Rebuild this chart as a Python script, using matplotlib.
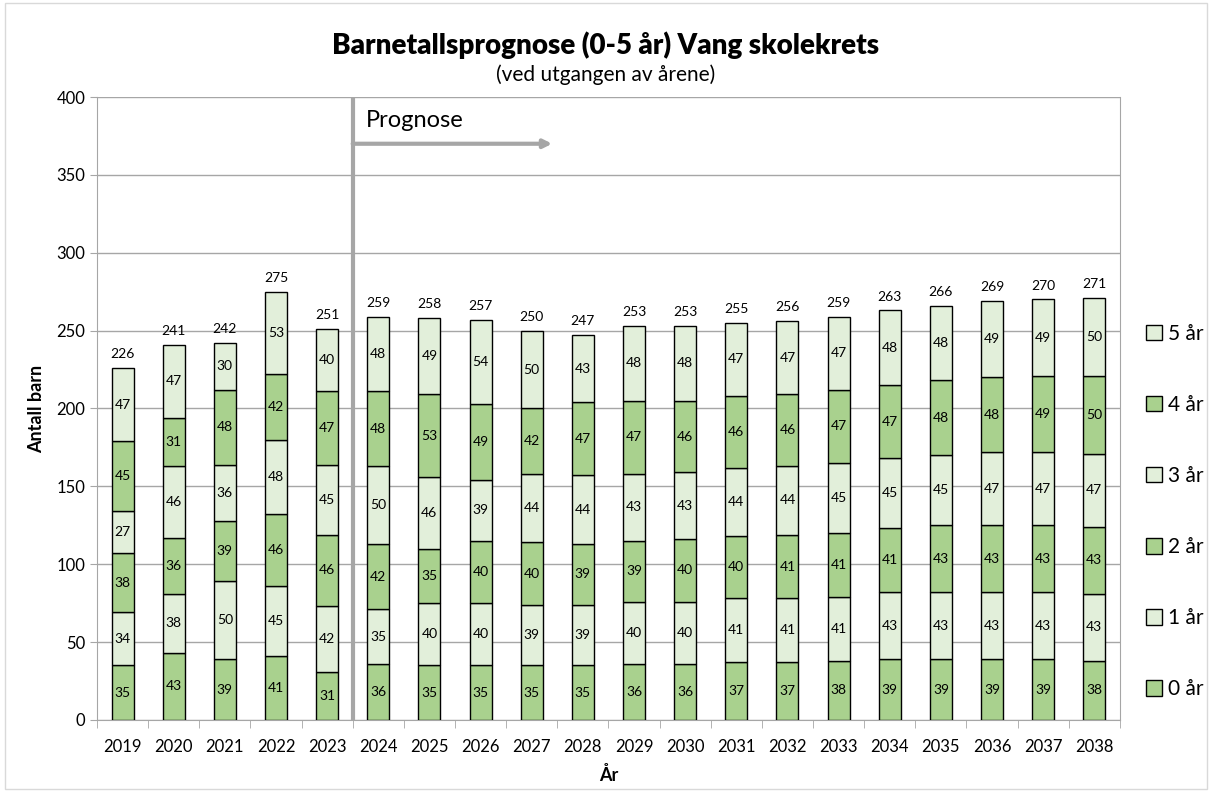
import matplotlib.pyplot as plt
import numpy as np
from matplotlib.patches import Rectangle

plt.rcParams['font.family'] = ['Lato', 'DejaVu Sans']

years = [str(y) for y in range(2019, 2039)]
age0 = [35, 43, 39, 41, 31, 36, 35, 35, 35, 35, 36, 36, 37, 37, 38, 39, 39, 39, 39, 38]
age1 = [34, 38, 50, 45, 42, 35, 40, 40, 39, 39, 40, 40, 41, 41, 41, 43, 43, 43, 43, 43]
age2 = [38, 36, 39, 46, 46, 42, 35, 40, 40, 39, 39, 40, 40, 41, 41, 41, 43, 43, 43, 43]
age3 = [27, 46, 36, 48, 45, 50, 46, 39, 44, 44, 43, 43, 44, 44, 45, 45, 45, 47, 47, 47]
age4 = [45, 31, 48, 42, 47, 48, 53, 49, 42, 47, 47, 46, 46, 46, 47, 47, 48, 48, 49, 50]
age5 = [47, 47, 30, 53, 40, 48, 49, 54, 50, 43, 48, 48, 47, 47, 47, 48, 48, 49, 49, 50]
series = [age0, age1, age2, age3, age4, age5]
labels = ['0 år', '1 år', '2 år', '3 år', '4 år', '5 år']
dark = '#A9D18E'
light = '#E2EFDA'
colors = [dark, light, dark, light, dark, light]

fig = plt.figure(figsize=(12.12, 7.92), dpi=100)
ax = fig.add_axes([0.080, 0.091, 0.844, 0.7865])

x = np.arange(len(years))
bottom = np.zeros(len(years))
handles = []
for vals, lab, col in zip(series, labels, colors):
    bars = ax.bar(x, vals, 0.43, bottom=bottom, color=col, edgecolor='black',
                  linewidth=1.0, label=lab, zorder=3)
    handles.append(bars)
    ax.bar_label(bars, labels=[str(v) for v in vals], label_type='center',
                 fontsize=10, color='black')
    bottom += np.array(vals)

totals = bottom.astype(int)
for xi, t in zip(x, totals):
    ax.text(xi, t + 5, str(t), ha='center', va='bottom', fontsize=10)

ax.set_xlim(-0.5, len(years) - 0.5)
ax.set_ylim(0, 400)
ax.set_yticks(range(0, 401, 50))
ax.set_xticks(x)
ax.set_xticklabels(years, fontsize=12)
ax.set_xticks(np.arange(-0.5, len(years), 1), minor=True)
ax.tick_params(axis='x', which='major', length=0, pad=14)
ax.tick_params(axis='x', which='minor', length=6, color='#A6A6A6')
ax.tick_params(axis='y', labelsize=12, length=5, color='#A6A6A6')
ax.yaxis.grid(True, color='#A6A6A6', linewidth=1.0, zorder=0)
ax.set_axisbelow(True)
for s in ['left', 'bottom', 'right']:
    ax.spines[s].set_color('#A6A6A6')
ax.spines['top'].set_visible(False)

ax.set_xlabel('År', fontsize=13, fontweight='bold', labelpad=8)
ax.set_ylabel('Antall barn', fontsize=13, fontweight='bold', labelpad=8)

# forecast marker
ax.axvline(4.5, ymin=0, ymax=1, color='#A6A6A6', linewidth=3, zorder=4)
ax.annotate('', xy=(8.4, 370), xytext=(4.5, 370),
            arrowprops=dict(arrowstyle='-|>', color='#A6A6A6', lw=3,
                            mutation_scale=12, shrinkA=0, shrinkB=0))
ax.text(4.75, 385, 'Prognose', fontsize=17, va='center', ha='left')

fig.text(0.5, 0.943, 'Barnetallsprognose (0-5 år) Vang skolekrets',
         ha='center', va='center', fontsize=20, fontweight='heavy')
fig.text(0.5, 0.906, '(ved utgangen av årene)', ha='center', va='center',
         fontsize=15)

leg = fig.legend(handles[::-1], labels[::-1], loc='center left',
                 bbox_to_anchor=(0.93, 0.354), frameon=False, fontsize=15,
                 labelspacing=2.45, handlelength=0.75, handleheight=0.75,
                 handletextpad=0.3)

fig.patches.append(Rectangle((0.004, 0.004), 0.992, 0.992, transform=fig.transFigure,
                             fill=False, edgecolor='#D9D9D9', linewidth=1))

fig.savefig('out.png', dpi=100)
